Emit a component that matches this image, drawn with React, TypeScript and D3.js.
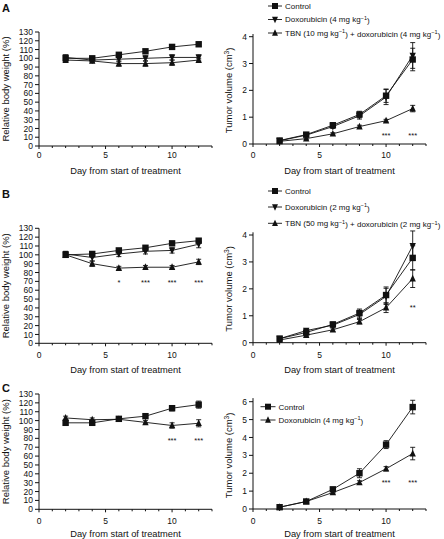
import React from "react";
import * as d3 from "d3";

// ---------- data ----------
const days = [2, 4, 6, 8, 10, 12];
const xTickLabels = [0, 5, 10];

const weightTicks = [0, 10, 20, 30, 40, 50, 60, 70, 80, 90, 100, 110, 120, 130];
const tumorTicksAB = [0, 1, 2, 3, 4];
const tumorTicksC = [0, 1, 2, 3, 4, 5, 6];

// Panel A
const aWeightControl = [100, 100, 104, 108, 113, 116];
const aWeightControlErr = [2, 2, 2, 1.5, 2, 2.5];
const aWeightDox = [101, 98, 99, 100, 101, 101];
const aWeightDoxErr = [3, 2, 3, 3, 3, 3];
const aWeightTbn = [98, 97, 94, 94, 95, 98];
const aWeightTbnErr = [2, 2, 3, 3, 3, 2];

const aTumorControl = [0.13, 0.35, 0.7, 1.1, 1.8, 3.15];
const aTumorControlErr = [0.03, 0.05, 0.07, 0.12, 0.25, 0.42];
const aTumorDox = [0.12, 0.33, 0.65, 1.05, 1.75, 3.3];
const aTumorDoxErr = [0.03, 0.05, 0.07, 0.12, 0.28, 0.48];
const aTumorTbn = [0.1, 0.2, 0.38, 0.65, 0.87, 1.32];
const aTumorTbnErr = [0.02, 0.03, 0.04, 0.05, 0.05, 0.12];

// Panel B
const bWeightControl = [100, 101, 105, 108, 113, 116];
const bWeightControlErr = [3, 2, 2, 2, 2, 2];
const bWeightDox = [101, 97, 101, 104, 105, 112];
const bWeightDoxErr = [3, 4, 3, 3, 3, 4];
const bWeightTbn = [100, 90, 85, 86, 86, 92];
const bWeightTbnErr = [3, 3, 2, 2, 2, 3];

const bTumorControl = [0.15, 0.38, 0.68, 1.1, 1.77, 3.15];
const bTumorControlErr = [0.04, 0.06, 0.08, 0.15, 0.3, 0.45];
const bTumorDox = [0.15, 0.45, 0.65, 1.05, 1.72, 3.6];
const bTumorDoxErr = [0.04, 0.07, 0.08, 0.15, 0.3, 0.55];
const bTumorTbn = [0.1, 0.28, 0.48, 0.78, 1.3, 2.38];
const bTumorTbnErr = [0.03, 0.04, 0.06, 0.08, 0.18, 0.33];

// Panel C
const cWeightControl = [97.5, 97.5, 102, 105, 114, 118];
const cWeightControlErr = [2, 2, 2, 2, 3, 4];
const cWeightDox = [103, 101, 101.5, 98, 94.5, 97];
const cWeightDoxErr = [2, 2, 2, 2, 3, 4];

const cTumorControl = [0.1, 0.42, 1.1, 2.0, 3.6, 5.7];
const cTumorControlErr = [0.04, 0.05, 0.1, 0.25, 0.22, 0.38];
const cTumorDox = [0.1, 0.42, 0.92, 1.48, 2.25, 3.1];
const cTumorDoxErr = [0.03, 0.05, 0.07, 0.1, 0.12, 0.35];

// significance marks
const aTumorStars = [
  { day: 10, label: "***" },
  { day: 12, label: "***" },
];
const bWeightStars = [
  { day: 6, label: "*" },
  { day: 8, label: "***" },
  { day: 10, label: "***" },
  { day: 12, label: "***" },
];
const bTumorStars = [{ day: 12, label: "**" }];
const cWeightStars = [
  { day: 10, label: "***" },
  { day: 12, label: "***" },
];
const cTumorStars = [
  { day: 10, label: "***" },
  { day: 12, label: "***" },
];

// ---------- drawing ----------
const FONT = "'Liberation Sans', Arial, Helvetica, sans-serif";
const INK = "#111";

type Marker = "square" | "up" | "down";
type Series = { values: number[]; errs: number[]; marker: Marker };

function MarkerShape({ type, x, y, s = 3.2 }: { type: Marker; x: number; y: number; s?: number }) {
  if (type === "square")
    return <rect x={x - s} y={y - s} width={2 * s} height={2 * s} fill={INK} />;
  const h = s * 1.1;
  const pts =
    type === "up"
      ? `${x - s},${y + h * 0.8} ${x + s},${y + h * 0.8} ${x},${y - h * 1.1}`
      : `${x - s},${y - h * 0.8} ${x + s},${y - h * 0.8} ${x},${y + h * 1.1}`;
  return <polygon points={pts} fill={INK} />;
}

type PanelProps = {
  left: number;
  right: number;
  bottom: number;
  top: number;
  yMax: number;
  axisTop: number;
  yTicks: number[];
  yLabelX: number;
  yTitle: React.ReactNode;
  series: Series[];
  stars: { day: number; label: string }[];
  starValue: number;
  tickLabelY: number;
  titleY: number;
};

function Panel(p: PanelProps) {
  const x = d3.scaleLinear().domain([0, 13]).range([p.left, p.right]);
  const y = d3.scaleLinear().domain([0, p.yMax]).range([p.bottom, p.top]);
  const line = d3
    .line<number>()
    .x((_, i) => x(days[i]))
    .y((v) => y(v));
  const minor = d3.range(0, 14);
  return (
    <g fontFamily={FONT} fill={INK}>
      {/* axes */}
      <line x1={p.left} x2={p.left} y1={p.bottom} y2={y(p.axisTop)} stroke={INK} strokeWidth={1} />
      <line x1={p.left} x2={p.right} y1={p.bottom} y2={p.bottom} stroke={INK} strokeWidth={1} />
      {p.yTicks.map((t) => (
        <g key={"yt" + t}>
          <line x1={p.left - 4} x2={p.left} y1={y(t)} y2={y(t)} stroke={INK} />
          <text x={p.left - 6} y={y(t)} dy="0.36em" fontSize={8.5} textAnchor="end">
            {t}
          </text>
        </g>
      ))}
      {minor.map((t) => (
        <line
          key={"xm" + t}
          x1={x(t)}
          x2={x(t)}
          y1={p.bottom}
          y2={p.bottom + (t % 5 === 0 ? 3 : 2)}
          stroke={INK}
        />
      ))}
      {xTickLabels.map((t) => (
        <text key={"xl" + t} x={x(t)} y={p.tickLabelY} fontSize={8.5} textAnchor="middle">
          {t}
        </text>
      ))}
      <text x={(p.left + p.right) / 2} y={p.titleY} fontSize={9.3} textAnchor="middle">
        Day from start of treatment
      </text>
      <text
        transform={`translate(${p.yLabelX},${(p.bottom + p.top) / 2}) rotate(-90)`}
        fontSize={9.5}
        textAnchor="middle"
      >
        {p.yTitle}
      </text>
      {/* series */}
      {p.series.map((s, si) => (
        <g key={"s" + si}>
          <path d={line(s.values) || ""} fill="none" stroke={INK} strokeWidth={0.9} />
          {s.values.map((v, i) => {
            const cx = x(days[i]);
            const yl = y(v - s.errs[i]);
            const yh = y(v + s.errs[i]);
            return (
              <g key={i}>
                <line x1={cx} x2={cx} y1={yl} y2={yh} stroke={INK} strokeWidth={0.9} />
                <line x1={cx - 2.5} x2={cx + 2.5} y1={yl} y2={yl} stroke={INK} strokeWidth={0.9} />
                <line x1={cx - 2.5} x2={cx + 2.5} y1={yh} y2={yh} stroke={INK} strokeWidth={0.9} />
                <MarkerShape type={s.marker} x={cx} y={y(v)} />
              </g>
            );
          })}
        </g>
      ))}
      {p.stars.map((s) => (
        <text
          key={"st" + s.day}
          x={x(s.day)}
          y={y(p.starValue)}
          fontSize={7.5}
          textAnchor="middle"
          dy="0.5em"
        >
          {s.label}
        </text>
      ))}
    </g>
  );
}

const Sup = ({ children }: { children: React.ReactNode }) => (
  <tspan fontSize="0.7em" dy="-0.45em">
    {children}
  </tspan>
);

function KgLabel({ mg }: { mg: number }) {
  return (
    <>
      {`${mg} mg kg`}
      <tspan fontSize="0.7em" dy="-0.45em">
        −1
      </tspan>
      <tspan dy="0.45em">)</tspan>
    </>
  );
}

function Legend({
  items,
  x,
  ys,
  lineHalf = 7,
}: {
  items: { marker: Marker; label: React.ReactNode }[];
  x: number;
  ys: number[];
  lineHalf?: number;
}) {
  return (
    <g fontFamily={FONT} fill={INK}>
      {items.map((it, i) => (
        <g key={i}>
          <line x1={x - lineHalf} x2={x + lineHalf} y1={ys[i]} y2={ys[i]} stroke={INK} strokeWidth={0.9} />
          <MarkerShape type={it.marker} x={x} y={ys[i]} s={3} />
          <text x={x + lineHalf + 3} y={ys[i]} dy="0.35em" fontSize={8}>
            {it.label}
          </text>
        </g>
      ))}
    </g>
  );
}

const weightTitle = "Relative body weight (%)";
const tumorTitle = (
  <>
    Tumor volume (cm<Sup>3</Sup>
    <tspan dy="0.45em">)</tspan>
  </>
);

export default function App() {
  const L = { left: 39, right: 212, yLabelX: 9 };
  const R = { left: 253, right: 426, yLabelX: 232 };
  return (
    <svg width={444} height={539} style={{ position: "absolute", left: 0, top: 0, background: "#fff" }}>
      <rect width={444} height={539} fill="#fff" />
      {/* Panel labels */}
      <g fontFamily={FONT} fontWeight="bold" fontSize={11} fill={INK}>
        <text x={2} y={12}>A</text>
        <text x={2} y={198}>B</text>
        <text x={2} y={392}>C</text>
      </g>

      {/* A */}
      <Panel
        {...L}
        bottom={146}
        top={32}
        yMax={130}
        axisTop={130}
        yTicks={weightTicks}
        yTitle={weightTitle}
        series={[
          { values: aWeightControl, errs: aWeightControlErr, marker: "square" },
          { values: aWeightDox, errs: aWeightDoxErr, marker: "down" },
          { values: aWeightTbn, errs: aWeightTbnErr, marker: "up" },
        ]}
        stars={[]}
        starValue={0}
        tickLabelY={158}
        titleY={174}
      />
      <Panel
        {...R}
        bottom={144}
        top={36.7}
        yMax={4}
        axisTop={4.1}
        yTicks={tumorTicksAB}
        yTitle={tumorTitle}
        series={[
          { values: aTumorControl, errs: aTumorControlErr, marker: "square" },
          { values: aTumorDox, errs: aTumorDoxErr, marker: "down" },
          { values: aTumorTbn, errs: aTumorTbnErr, marker: "up" },
        ]}
        stars={aTumorStars}
        starValue={0.38}
        tickLabelY={158}
        titleY={174}
      />
      <Legend
        x={275}
        ys={[6, 19.5, 33]}
        items={[
          { marker: "square", label: "Control" },
          { marker: "down", label: <>Doxorubicin (<KgLabel mg={4} /></> },
          {
            marker: "up",
            label: (
              <>
                TBN (10 mg kg<Sup>−1</Sup>
                <tspan dy="0.45em">) + doxorubicin (</tspan>
                <KgLabel mg={4} />
              </>
            ),
          },
        ]}
      />

      {/* B */}
      <Panel
        {...L}
        bottom={343.3}
        top={228.3}
        yMax={130}
        axisTop={130}
        yTicks={weightTicks}
        yTitle={weightTitle}
        series={[
          { values: bWeightControl, errs: bWeightControlErr, marker: "square" },
          { values: bWeightDox, errs: bWeightDoxErr, marker: "down" },
          { values: bWeightTbn, errs: bWeightTbnErr, marker: "up" },
        ]}
        stars={bWeightStars}
        starValue={70}
        tickLabelY={358}
        titleY={373}
      />
      <Panel
        {...R}
        bottom={342.7}
        top={235}
        yMax={4}
        axisTop={4.1}
        yTicks={tumorTicksAB}
        yTitle={tumorTitle}
        series={[
          { values: bTumorControl, errs: bTumorControlErr, marker: "square" },
          { values: bTumorDox, errs: bTumorDoxErr, marker: "down" },
          { values: bTumorTbn, errs: bTumorTbnErr, marker: "up" },
        ]}
        stars={bTumorStars}
        starValue={1.34}
        tickLabelY={358}
        titleY={373}
      />
      <Legend
        x={275}
        ys={[191, 207, 223.3]}
        items={[
          { marker: "square", label: "Control" },
          { marker: "down", label: <>Doxorubicin (<KgLabel mg={2} /></> },
          {
            marker: "up",
            label: (
              <>
                TBN (50 mg kg<Sup>−1</Sup>
                <tspan dy="0.45em">) + doxorubicin (</tspan>
                <KgLabel mg={2} />
              </>
            ),
          },
        ]}
      />

      {/* C */}
      <Panel
        {...L}
        bottom={509.3}
        top={394}
        yMax={130}
        axisTop={130}
        yTicks={weightTicks}
        yTitle={weightTitle}
        series={[
          { values: cWeightControl, errs: cWeightControlErr, marker: "square" },
          { values: cWeightDox, errs: cWeightDoxErr, marker: "up" },
        ]}
        stars={cWeightStars}
        starValue={79}
        tickLabelY={524}
        titleY={537}
      />
      <Panel
        {...R}
        bottom={509}
        top={401.7}
        yMax={6}
        axisTop={6.2}
        yTicks={tumorTicksC}
        yTitle={tumorTitle}
        series={[
          { values: cTumorControl, errs: cTumorControlErr, marker: "square" },
          { values: cTumorDox, errs: cTumorDoxErr, marker: "up" },
        ]}
        stars={cTumorStars}
        starValue={1.56}
        tickLabelY={524}
        titleY={537}
      />
      <Legend
        x={268}
        lineHalf={7.5}
        ys={[406.7, 420]}
        items={[
          { marker: "square", label: "Control" },
          { marker: "up", label: <>Doxorubicin (<KgLabel mg={4} /></> },
        ]}
      />
    </svg>
  );
}
